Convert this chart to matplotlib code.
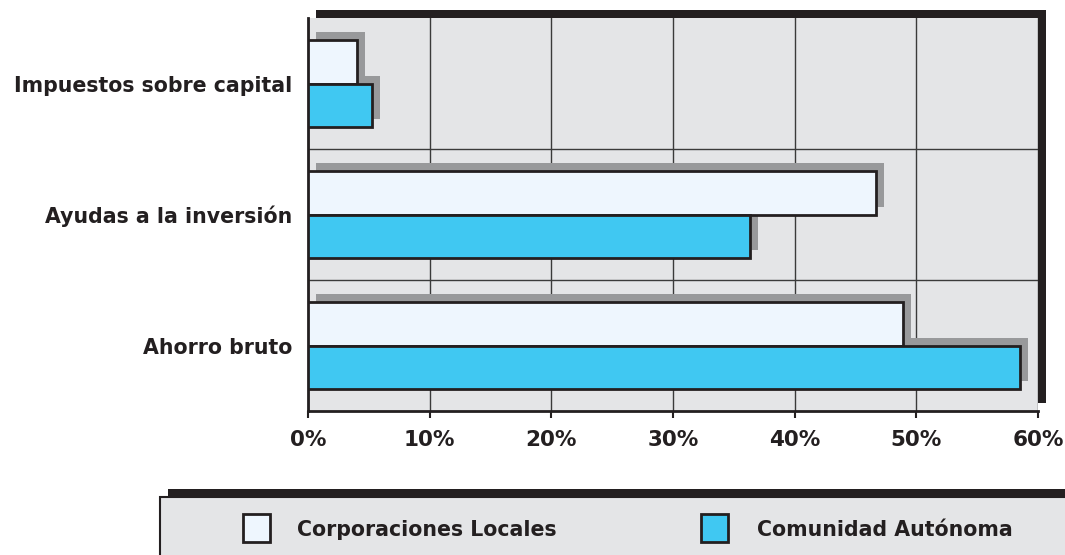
import numpy as np
import matplotlib
matplotlib.use('Agg')
import matplotlib.pyplot as plt
import matplotlib.transforms as mtransforms
from matplotlib.patches import Rectangle

# data
categories = ['Impuestos sobre capital', 'Ayudas a la inversión', 'Ahorro bruto']
series_names = ['Corporaciones Locales', 'Comunidad Autónoma']
corp_locales = [4.0, 46.7, 48.9]
comunidad = [5.3, 36.3, 58.5]
xticks = [0, 10, 20, 30, 40, 50, 60]
xtick_labels = ['0%', '10%', '20%', '30%', '40%', '50%', '60%']

# colours
c_dark = '#231f20'
c_bg = '#e4e5e7'
c_shadow = '#98999b'
c_cl = '#eef6fe'
c_ca = '#40c8f2'

plt.rcParams['font.family'] = ['DejaVu Sans']
plt.rcParams['font.weight'] = 'bold'

W, H = 1065, 555
fig = plt.figure(figsize=(W / 100, H / 100), dpi=100)
fig.patch.set_facecolor('white')

def px(x0, y0, x1, y1):
    # pixel box (top-left origin) -> figure fraction rect
    return (x0 / W, 1 - y1 / H, (x1 - x0) / W, (y1 - y0) / H)

l, b, w, h = px(308, 18, 1038, 411)
ax = fig.add_axes([l, b, w, h])
ax.set_facecolor(c_bg)

# dark drop shadow behind plot area
sx, sy, sw, sh = px(316, 10, 1046, 403)
fig.patches.append(Rectangle((sx, sy), sw, sh, transform=fig.transFigure,
                             facecolor=c_dark, edgecolor='none', zorder=-1))

y = np.arange(len(categories))
bh = 0.33
shadow_tr = ax.transData + mtransforms.ScaledTranslation(8 / 100, 8 / 100, fig.dpi_scale_trans)

for vals, off, col in [(corp_locales, -bh / 2, c_cl), (comunidad, bh / 2, c_ca)]:
    ax.barh(y + off, vals, height=bh, color=c_shadow, edgecolor='none',
            transform=shadow_tr, zorder=2)
for vals, off, col in [(corp_locales, -bh / 2, c_cl), (comunidad, bh / 2, c_ca)]:
    ax.barh(y + off, vals, height=bh, color=col, edgecolor=c_dark,
            linewidth=2, zorder=3)

ax.set_xlim(0, 60)
ax.set_ylim(len(categories) - 0.5, -0.5)

ax.set_xticks(xticks)
ax.set_xticklabels(xtick_labels, fontsize=15.5, fontweight='bold', color=c_dark)
ax.set_yticks(y)
ax.set_yticklabels(categories, fontsize=14.8, fontweight='bold', color=c_dark)
ax.tick_params(axis='x', direction='out', length=5, width=1.5, color=c_dark, pad=9)
ax.tick_params(axis='y', length=0, pad=11)

ax.grid(axis='x', color='#3a3a3a', linewidth=1)
for yy in y[:-1] + 0.5:
    ax.axhline(yy, color='#3a3a3a', linewidth=1, zorder=0.5)
ax.set_axisbelow(True)

for s in ['top', 'right']:
    ax.spines[s].set_visible(False)
for s in ['left', 'bottom']:
    ax.spines[s].set_color(c_dark)
    ax.spines[s].set_linewidth(2)

# legend box
dx, dy, dw, dh = px(168, 489, 1100, 600)
fig.patches.append(Rectangle((dx, dy), dw, dh, transform=fig.transFigure,
                             facecolor=c_dark, edgecolor='none', zorder=1))
gx, gy, gw, gh = px(160, 497, 1100, 600)
fig.patches.append(Rectangle((gx, gy), gw, gh, transform=fig.transFigure,
                             facecolor=c_bg, edgecolor=c_dark, linewidth=1.5, zorder=2))

for name, col, sq_x, tx in [(series_names[0], c_cl, 243, 297), (series_names[1], c_ca, 701, 757)]:
    qx, qy, qw, qh = px(sq_x, 514, sq_x + 27, 542)
    fig.patches.append(Rectangle((qx, qy), qw, qh, transform=fig.transFigure,
                                 facecolor=col, edgecolor=c_dark, linewidth=2, zorder=3))
    fig.text(tx / W, 1 - 530 / H, name, fontsize=14.8, fontweight='bold',
             color=c_dark, va='center', ha='left', zorder=4)

fig.savefig('out.png', dpi=100)
